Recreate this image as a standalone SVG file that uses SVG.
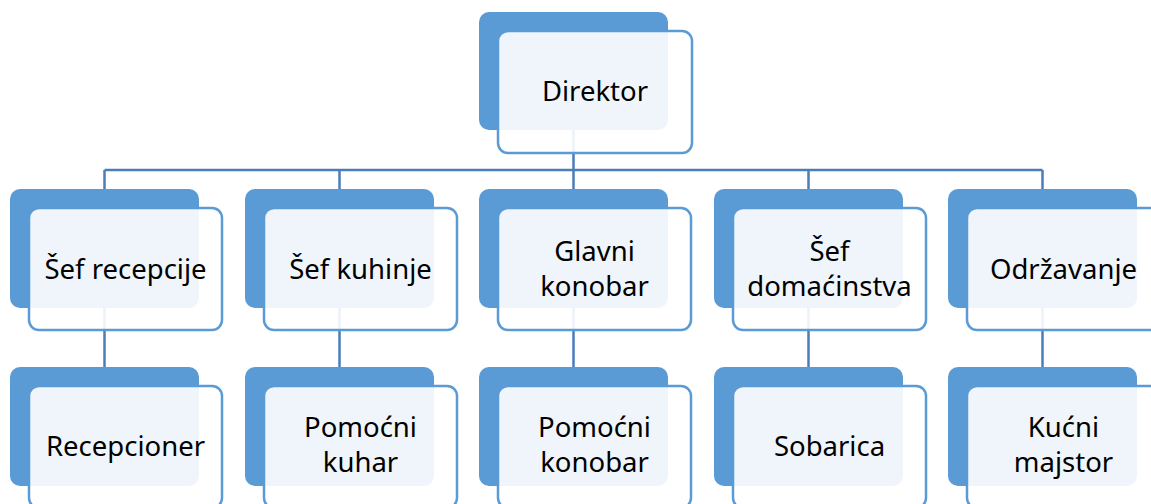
<svg xmlns="http://www.w3.org/2000/svg" width="1151" height="504" viewBox="0 0 1151 504">
<style>
.back{fill:#5B9BD5;}
.front{fill:#ffffff;fill-opacity:0.9;stroke:#5B9BD5;stroke-width:2.5;}
.conn{fill:none;stroke:#4A7EBB;stroke-width:2.5;}
.t{font-family:"Noto Sans","Open Sans",sans-serif;font-size:27.5px;fill:#000;text-anchor:middle;}
</style>
<rect width="1151" height="504" fill="#ffffff"/>
<g id="connectors">
<path class="conn" d="M573.5 130 V170 M104.5 170 H1042.5 M104.5 170 V189 M339.5 170 V189 M573.5 170 V189 M808.5 170 V189 M1042.5 170 V189"/>
<path class="conn" d="M104.5 308 V367 M339.5 308 V367 M573.5 308 V367 M808.5 308 V367 M1042.5 308 V367"/>
</g>
<g id="direktor">
<rect class="back" x="479" y="12" width="189" height="118" rx="10"/>
<rect class="front" x="498" y="31" width="194" height="122" rx="10"/>
<text class="t" x="595" y="101">Direktor</text>
</g>
<g id="sef-recepcije">
<rect class="back" x="10" y="189" width="189" height="119" rx="10"/>
<rect class="front" x="29" y="208" width="193" height="122" rx="10"/>
<text class="t" x="125.5" y="279">Šef recepcije</text>
</g>
<g id="sef-kuhinje">
<rect class="back" x="245" y="189" width="189" height="119" rx="10"/>
<rect class="front" x="264" y="208" width="193" height="122" rx="10"/>
<text class="t" x="360.5" y="279">Šef kuhinje</text>
</g>
<g id="glavni-konobar">
<rect class="back" x="479" y="189" width="189" height="119" rx="10"/>
<rect class="front" x="498" y="208" width="193" height="122" rx="10"/>
<text class="t" x="594.5" y="261">Glavni</text>
<text class="t" x="594.5" y="296">konobar</text>
</g>
<g id="sef-domacinstva">
<rect class="back" x="714" y="189" width="189" height="119" rx="10"/>
<rect class="front" x="733" y="208" width="193" height="122" rx="10"/>
<text class="t" x="829.5" y="261">Šef</text>
<text class="t" x="829.5" y="296">domaćinstva</text>
</g>
<g id="odrzavanje">
<rect class="back" x="948" y="189" width="189" height="119" rx="10"/>
<rect class="front" x="967" y="208" width="193" height="122" rx="10"/>
<text class="t" x="1063.5" y="279">Održavanje</text>
</g>
<g id="recepcioner">
<rect class="back" x="10" y="367" width="189" height="119" rx="10"/>
<rect class="front" x="29" y="386" width="193" height="122" rx="10"/>
<text class="t" x="125.5" y="456">Recepcioner</text>
</g>
<g id="pomocni-kuhar">
<rect class="back" x="245" y="367" width="189" height="119" rx="10"/>
<rect class="front" x="264" y="386" width="193" height="122" rx="10"/>
<text class="t" x="360.5" y="437">Pomoćni</text>
<text class="t" x="360.5" y="472">kuhar</text>
</g>
<g id="pomocni-konobar">
<rect class="back" x="479" y="367" width="189" height="119" rx="10"/>
<rect class="front" x="498" y="386" width="193" height="122" rx="10"/>
<text class="t" x="594.5" y="437">Pomoćni</text>
<text class="t" x="594.5" y="472">konobar</text>
</g>
<g id="sobarica">
<rect class="back" x="714" y="367" width="189" height="119" rx="10"/>
<rect class="front" x="733" y="386" width="193" height="122" rx="10"/>
<text class="t" x="829.5" y="456">Sobarica</text>
</g>
<g id="kucni-majstor">
<rect class="back" x="948" y="367" width="189" height="119" rx="10"/>
<rect class="front" x="967" y="386" width="193" height="122" rx="10"/>
<text class="t" x="1063.5" y="437">Kućni</text>
<text class="t" x="1063.5" y="472">majstor</text>
</g>
</svg>
